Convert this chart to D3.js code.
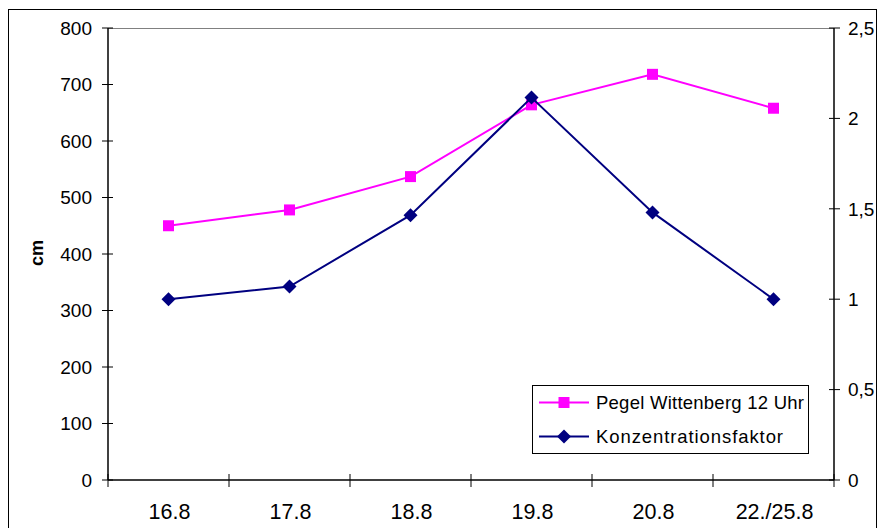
<!DOCTYPE html>
<html>
<head>
<meta charset="utf-8">
<script src="https://cdn.jsdelivr.net/npm/d3@7"></script>
<style>
  body { margin: 0; background: #fff; }
  svg { display: block; font-family: "Liberation Sans", Arial, sans-serif; }
</style>
</head>
<body>
<svg id="chart" width="878" height="528"></svg>
<script>
const categories = ["16.8", "17.8", "18.8", "19.8", "20.8", "22./25.8"];
const pegel = [450, 478, 537, 664, 718, 658];
const konz = [1.0, 1.07, 1.465, 2.115, 1.48, 1.0];
const leftTicks = [0, 100, 200, 300, 400, 500, 600, 700, 800];
const rightTicks = [0, 0.5, 1, 1.5, 2, 2.5];
const seriesNames = ["Pegel Wittenberg 12 Uhr", "Konzentrationsfaktor"];
const colors = ["#FF00FF", "#000080"];

const svg = d3.select("#chart");
const L = 108, R = 834, T = 28, B = 480;

// outer border
svg.append("rect").attr("x", 8.5).attr("y", 9.5).attr("width", 868).attr("height", 530)
  .attr("fill", "none").attr("stroke", "#000").attr("stroke-width", 1);

const x = d3.scaleBand().domain(categories).range([L, R]).paddingInner(0).paddingOuter(0);
const yL = d3.scaleLinear().domain([0, 800]).range([B, T]);
const yR = d3.scaleLinear().domain([0, 2.5]).range([B, T]);

// top plot line (gray)
svg.append("line").attr("x1", L).attr("x2", R).attr("y1", T + 0.5).attr("y2", T + 0.5)
  .attr("stroke", "#808080").attr("stroke-width", 1);

// left axis
const gl = svg.append("g");
gl.append("line").attr("x1", L).attr("x2", L).attr("y1", T).attr("y2", B).attr("stroke", "#000").attr("stroke-width", 1.5);
leftTicks.forEach(t => {
  gl.append("line").attr("x1", L - 6).attr("x2", L + 5).attr("y1", yL(t)).attr("y2", yL(t)).attr("stroke", "#000").attr("stroke-width", 1);
  gl.append("text").attr("x", 92).attr("y", yL(t)).attr("dy", "0.36em").attr("text-anchor", "end")
    .attr("font-size", 19).text(d3.format("d")(t));
});

// right axis
const gr = svg.append("g");
gr.append("line").attr("x1", R).attr("x2", R).attr("y1", T).attr("y2", B).attr("stroke", "#000").attr("stroke-width", 1.5);
const fmtR = v => String(v).replace(".", ",");
rightTicks.forEach(t => {
  gr.append("line").attr("x1", R - 5).attr("x2", R + 6).attr("y1", yR(t)).attr("y2", yR(t)).attr("stroke", "#000").attr("stroke-width", 1);
  gr.append("text").attr("x", 848).attr("y", yR(t)).attr("dy", "0.36em").attr("text-anchor", "start")
    .attr("font-size", 19).text(fmtR(t));
});

// bottom axis
const gb = svg.append("g");
gb.append("line").attr("x1", L).attr("x2", R).attr("y1", B).attr("y2", B).attr("stroke", "#000").attr("stroke-width", 1.5);
const bounds = categories.map(c => x(c)).concat([R]);
bounds.forEach(b => {
  gb.append("line").attr("x1", b).attr("x2", b).attr("y1", B - 6).attr("y2", B + 7).attr("stroke", "#000").attr("stroke-width", 1);
});
categories.forEach(c => {
  gb.append("text").attr("x", x(c) + x.bandwidth() / 2 + 1).attr("y", 519).attr("text-anchor", "middle")
    .attr("font-size", 21.5).text(c);
});

// y title
svg.append("text").attr("transform", "translate(43,253) rotate(-90)").attr("text-anchor", "middle")
  .attr("font-size", 18).attr("font-weight", "bold").text("cm");

const cx = c => x(c) + x.bandwidth() / 2;

// Pegel series
const lineL = d3.line().x((d, i) => cx(categories[i])).y(d => yL(d));
svg.append("path").datum(pegel).attr("d", lineL).attr("fill", "none").attr("stroke", colors[0]).attr("stroke-width", 2);
const sq = d3.symbol().type(d3.symbolSquare).size(121);
svg.selectAll(".pm").data(pegel).enter().append("path")
  .attr("transform", (d, i) => `translate(${cx(categories[i])},${yL(d)})`)
  .attr("d", sq).attr("fill", colors[0]);

// Konz series
const lineR = d3.line().x((d, i) => cx(categories[i])).y(d => yR(d));
svg.append("path").datum(konz).attr("d", lineR).attr("fill", "none").attr("stroke", colors[1]).attr("stroke-width", 2);
const diamond = "M0,-7L7,0L0,7L-7,0Z";
svg.selectAll(".km").data(konz).enter().append("path")
  .attr("transform", (d, i) => `translate(${cx(categories[i])},${yR(d)})`)
  .attr("d", diamond).attr("fill", colors[1]);

// legend
const lg = svg.append("g");
lg.append("rect").attr("x", 532.5).attr("y", 385.5).attr("width", 276).attr("height", 68)
  .attr("fill", "#fff").attr("stroke", "#000").attr("stroke-width", 1);
const legY = [402.5, 436.5];
const legW = [208, 187];
seriesNames.forEach((n, i) => {
  lg.append("line").attr("x1", 539).attr("x2", 589).attr("y1", legY[i]).attr("y2", legY[i])
    .attr("stroke", colors[i]).attr("stroke-width", 2);
  if (i === 0) {
    lg.append("path").attr("transform", `translate(564,${legY[i]})`).attr("d", sq).attr("fill", colors[i]);
  } else {
    lg.append("path").attr("transform", `translate(564,${legY[i]})`).attr("d", diamond).attr("fill", colors[i]);
  }
  lg.append("text").attr("x", 596).attr("y", legY[i]).attr("dy", "0.36em").attr("font-size", 18.5)
    .attr("textLength", legW[i]).attr("lengthAdjust", "spacing").text(n);
});
</script>
</body>
</html>
